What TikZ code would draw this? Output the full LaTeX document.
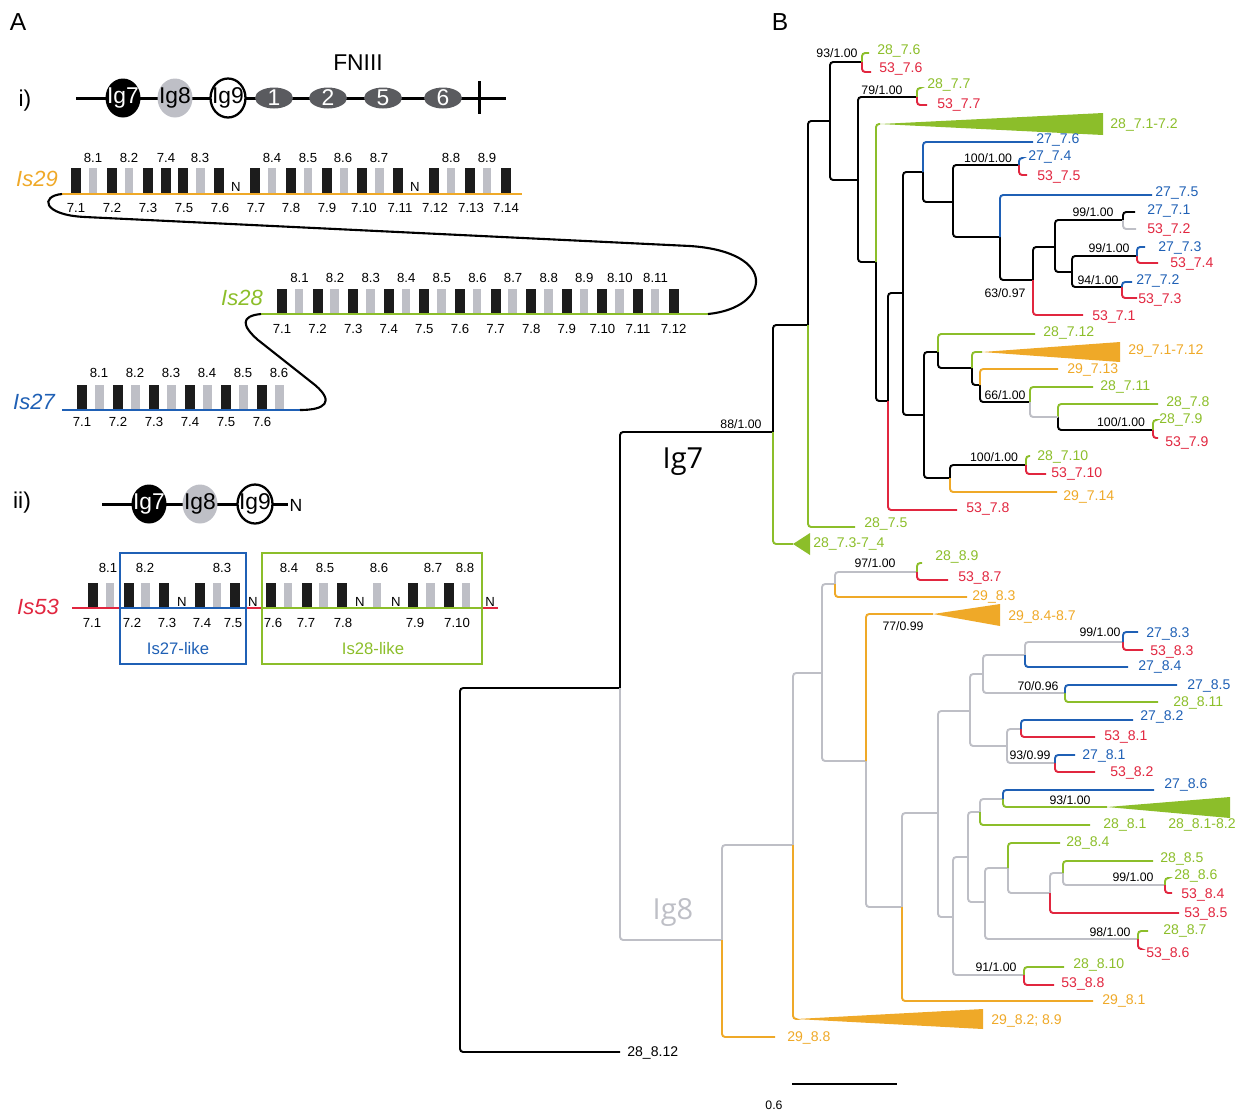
\documentclass[tikz,border=0pt]{standalone}
\usepackage{fontspec}
\setmainfont{Liberation Sans}
\newfontfamily\treefont{Open Sans}
\usepackage{tikz}
\usetikzlibrary{shapes.geometric}
\definecolor{isorange}{HTML}{EFA928}
\definecolor{isgreen}{HTML}{8CBE2A}
\definecolor{isblue}{HTML}{1F60B5}
\definecolor{isred}{HTML}{E1263F}
\definecolor{iggray}{HTML}{BEBFC6}
\definecolor{fngray}{HTML}{5A5B5F}
\definecolor{boxblack}{HTML}{1C1C1C}

\begin{document}
\begin{tikzpicture}[x=0.02cm, y=-0.02cm,
    panel/.style={inner sep=0pt, font=\fontsize{14}{16}\selectfont},
    isname/.style={inner sep=0pt, font=\fontsize{12.5}{14}\selectfont\itshape},
    num/.style={inner sep=0pt, font=\fontsize{7.5}{8}\selectfont},
    igdom/.style={ellipse, inner sep=0pt, minimum width=0.7cm, minimum height=0.78cm},
    iglab/.style={font=\fontsize{13}{14}\selectfont, inner sep=0pt},
    fndom/.style={ellipse, fill=fngray, inner sep=0pt, minimum width=0.76cm, minimum height=0.42cm},
    backbone/.style={line width=1.7pt},
    isline/.style={line width=1.1pt},
    link/.style={line width=1.2pt},
    br/.style={line width=1.1pt, rounded corners=1.8pt},
    leaf/.style={anchor=west, inner sep=0pt, font=\fontsize{8}{9}\selectfont},
    boot/.style={inner sep=0pt, font=\fontsize{7}{8}\selectfont},
    clade/.style={inner sep=0pt, font=\treefont\fontsize{16.5}{18}\selectfont},
  ]
  \useasboundingbox (0,0) rectangle (1239,1110);

  % Panel A: domain layout i)
  \node[panel] (pA) at (18,22) {A};
  \node[panel] (pB) at (780,22) {B};
  \node[panel, font=\fontsize{13}{14}\selectfont] (ione) at (25,101) {i)};
  \node[inner sep=0pt, font=\fontsize{13}{14}\selectfont] (fn) at (358,63) {FNIII};
  \coordinate (dL) at (76,98);
  \coordinate (dR) at (506,98);
  \draw[backbone] (dL) -- (dR);
  \draw[backbone] (479,81) -- (479,114);
  \node[igdom, fill=black, label={[iglab, text=white]center:Ig7}] (ig7a) at (123,98) {};
  \node[igdom, fill=iggray, label={[iglab]center:Ig8}] (ig8a) at (175,98) {};
  \node[igdom, fill=white, draw=black, line width=1.3pt, label={[iglab]center:Ig9}] (ig9a) at (228,98) {};
  \node[fndom, label={[iglab, text=white]center:1}] (fn1) at (274,98) {};
  \node[fndom, label={[iglab, text=white]center:2}] (fn2) at (328,98) {};
  \node[fndom, label={[iglab, text=white]center:5}] (fn5) at (383,98) {};
  \node[fndom, label={[iglab, text=white]center:6}] (fn6) at (443,98) {};

  % Is29 row
  \node[isname, text=isorange] (is29) at (37,179) {Is29};
  \foreach \s in {0,2,4,5,6,8,10,12,14,16,18,20,22,24}
    \fill[boxblack] ({71+17.9*\s},168) rectangle ++(10,26);
  \foreach \s in {1,3,7,11,13,15,17,21,23}
    \fill[iggray] ({71+17.9*\s},168) rectangle ++(8.5,26);
  \coordinate (is29L) at (62,194);
  \coordinate (is29R) at (522,194);
  \draw[isline, isorange] (is29L) -- (is29R);
  \foreach \x/\t in {93/8.1,129/8.2,166/7.4,200/8.3,272/8.4,308/8.5,343/8.6,379/8.7,451/8.8,487/8.9}
    \node[num] (u29-\x) at (\x,158) {\t};
  \foreach \x/\t in {76/7.1,112/7.2,148/7.3,184/7.5,220/7.6,256/7.7,291/7.8,327/7.9,364/7.10,400/7.11,435/7.12,471/7.13,506/7.14}
    \node[num] (d29-\x) at (\x,208) {\t};
  \node[num] (n29a) at (236,187) {N};
  \node[num] (n29b) at (415,187) {N};

  % Is28 row
  \node[isname, text=isgreen] (is28) at (242,298) {Is28};
  \foreach \s in {0,2,...,22}
    \fill[boxblack] ({277+17.8*\s},289) rectangle ++(10,25);
  \foreach \s in {1,3,...,21}
    \fill[iggray] ({277+17.8*\s},289) rectangle ++(8.5,25);
  \coordinate (is28L) at (261,314);
  \coordinate (is28R) at (708,314);
  \draw[isline, isgreen] (is28L) -- (is28R);
  \foreach \t [count=\k from 0] in {8.1,8.2,8.3,8.4,8.5,8.6,8.7,8.8,8.9,8.10,8.11}
    \node[num] (u28-\k) at ({299.5+35.6*\k},278) {\t};
  \foreach \t [count=\k from 0] in {7.1,7.2,7.3,7.4,7.5,7.6,7.7,7.8,7.9,7.10,7.11,7.12}
    \node[num] (d28-\k) at ({282+35.6*\k},329) {\t};

  % Is27 row
  \node[isname, text=isblue] (is27) at (34,402) {Is27};
  \foreach \s in {0,2,...,10}
    \fill[boxblack] ({77+18*\s},385) rectangle ++(10,25);
  \foreach \s in {1,3,...,11}
    \fill[iggray] ({77+18*\s},385) rectangle ++(8.5,25);
  \coordinate (is27L) at (62,410);
  \coordinate (is27R) at (300,410);
  \draw[isline, isblue] (is27L) -- (is27R);
  \foreach \t [count=\k from 0] in {8.1,8.2,8.3,8.4,8.5,8.6}
    \node[num] (u27-\k) at ({99+36*\k},373) {\t};
  \foreach \t [count=\k from 0] in {7.1,7.2,7.3,7.4,7.5,7.6}
    \node[num] (d27-\k) at ({82+36*\k},422) {\t};

  % links between the rows
  \draw[link] (is29L) .. controls (40,196) and (42,215) .. (85,217)
    -- (690,246) .. controls (780,252) and (770,308) .. (is28R);
  \draw[link] (is28L) .. controls (240,316) and (242,326) .. (258,340)
    -- (315,385) .. controls (335,402) and (325,410) .. (is27R);

  % Panel A: domain layout ii)
  \node[panel, font=\fontsize{13}{14}\selectfont] (itwo) at (22,503) {ii)};
  \coordinate (eL) at (102,504);
  \coordinate (eR) at (288,504);
  \draw[backbone] (eL) -- (eR);
  \node[igdom, fill=black, label={[iglab, text=white]center:Ig7}] (ig7b) at (149,504) {};
  \node[igdom, fill=iggray, label={[iglab]center:Ig8}] (ig8b) at (200,504) {};
  \node[igdom, fill=white, draw=black, line width=1.3pt, label={[iglab]center:Ig9}] (ig9b) at (255,504) {};
  \node[inner sep=0pt, font=\fontsize{10}{11}\selectfont] (nend) at (296,505) {N};

  % Is53 row
  \node[isname, text=isred] (is53) at (38,607) {Is53};
  \foreach \s in {0,2,4,6,8,10,12,14,18,20}
    \fill[boxblack] ({88+17.8*\s},583) rectangle ++(10,25);
  \foreach \s in {1,3,7,11,13,16,19,21}
    \fill[iggray] ({88+17.8*\s},583) rectangle ++(8.5,25);
  \draw[isline, isred] (72,608) -- (120,608) (246,608) -- (262,608) (482,608) -- (498,608);
  \draw[isline, isblue] (120,608) -- (246,608);
  \draw[isline, isgreen] (262,608) -- (482,608);
  \draw[line width=0.9pt, isblue] (120,553) rectangle (246,664);
  \draw[line width=0.9pt, isgreen] (262,553) rectangle (482,664);
  \foreach \x/\t in {108/8.1,145/8.2,222/8.3,289/8.4,325/8.5,379/8.6,433/8.7,465/8.8}
    \node[num] (u53-\x) at (\x,568) {\t};
  \foreach \x/\t in {92/7.1,132/7.2,167/7.3,202/7.4,233/7.5,273/7.6,306/7.7,343/7.8,415/7.9,457/7.10}
    \node[num] (d53-\x) at (\x,623) {\t};
  \foreach \x in {182,253,360,396,490}
    \node[num] (n53-\x) at (\x,602) {N};
  \node[inner sep=0pt, font=\fontsize{9.5}{11}\selectfont, text=isblue] (like27) at (178,649) {Is27-like};
  \node[inner sep=0pt, font=\fontsize{9.5}{11}\selectfont, text=isgreen] (like28) at (373,649) {Is28-like};

  % Panel B: tree nodes
  \path (460,870) coordinate (nR) (620,688) coordinate (nA) (773,432) coordinate (nIg7)
    (808,325) coordinate (n808) (830,121) coordinate (n830) (862,62) coordinate (n862)
    (858,180) coordinate (n858) (917,97) coordinate (n917) (876,262) coordinate (n876)
    (888,401) coordinate (n888) (903,293) coordinate (n903) (923,172) coordinate (n923)
    (953,202) coordinate (n953) (1019,165) coordinate (n1019) (1000,237) coordinate (n1000)
    (1033,280) coordinate (n1033) (1055,247) coordinate (n1055) (1123,220) coordinate (n1123)
    (1072,272) coordinate (n1072) (1137,256) coordinate (n1137) (1122,287) coordinate (n1122)
    (924,415) coordinate (n924) (938,352) coordinate (n938) (972,368) coordinate (n972)
    (980,385) coordinate (n980) (1030,402) coordinate (n1030) (1058,417) coordinate (n1058)
    (1153,430) coordinate (n1153) (950,478) coordinate (n950) (1026,465) coordinate (n1026);
  \path (722,940) coordinate (nIg8) (793,845) coordinate (m793) (822,673) coordinate (m822)
    (835,584) coordinate (m835) (917,572) coordinate (m917) (866,761) coordinate (m866)
    (902,907) coordinate (m902) (938,813) coordinate (m938) (970,711) coordinate (m970)
    (983,674) coordinate (m983) (1025,655) coordinate (m1025) (1123,642) coordinate (m1123)
    (1065,693) coordinate (m1065) (1007,746) coordinate (m1007) (1021,729) coordinate (m1021)
    (1055,763) coordinate (m1055) (953,917) coordinate (m953) (968,857) coordinate (m968)
    (980,812) coordinate (m980) (1003,799) coordinate (m1003) (985,902) coordinate (m985)
    (1008,868) coordinate (m1008) (1050,893) coordinate (m1050) (1063,873) coordinate (m1063)
    (1165,885) coordinate (m1165) (1138,939) coordinate (m1138) (1024,975) coordinate (m1024);

  % Panel B: tips
  \path (869,53) coordinate (g76) (871,72) coordinate (r76) (920,88) coordinate (g77)
    (927,105) coordinate (r77) (880,124) coordinate (tA) (1033,142) coordinate (b76)
    (1022,158) coordinate (b74) (1027,175) coordinate (r75) (1152,195) coordinate (b75)
    (1135,212) coordinate (b71) (1136,229) coordinate (r72) (1145,247) coordinate (b73)
    (1158,263) coordinate (r74) (1132,282) coordinate (b72) (1137,298) coordinate (r73)
    (1083,315) coordinate (r71) (1035,334) coordinate (g712) (982,352) coordinate (tB)
    (1058,369) coordinate (o713) (1093,387) coordinate (g711) (1158,404) coordinate (g78)
    (1155,420) coordinate (g79) (1158,438) coordinate (r79) (1030,456) coordinate (g710)
    (1046,474) coordinate (r710) (1057,492) coordinate (o714) (957,510) coordinate (r78)
    (855,527) coordinate (g75) (793,544) coordinate (tC);
  \path (922,563) coordinate (g89) (948,580) coordinate (r87) (967,597) coordinate (o83)
    (933,614) coordinate (tD) (1138,632) coordinate (b83) (1143,650) coordinate (r83)
    (1128,667) coordinate (b84) (1177,685) coordinate (b85) (1158,702) coordinate (g811)
    (1133,720) coordinate (b82) (1095,737) coordinate (r81) (1075,755) coordinate (b81)
    (1095,772) coordinate (r82) (1154,790) coordinate (b86) (1107,807) coordinate (tE)
    (1090,825) coordinate (g81) (1060,843) coordinate (g84) (1153,861) coordinate (g85)
    (1167,878) coordinate (g86) (1172,893) coordinate (r84) (1179,913) coordinate (r85)
    (1148,931) coordinate (g87) (1140,949) coordinate (r86) (1064,967) coordinate (g810)
    (1054,985) coordinate (r88) (1093,1001) coordinate (o81) (796,1019) coordinate (tF)
    (775,1037) coordinate (o88) (620,1052) coordinate (k812);

  % collapsed clades
  \fill[isgreen] (tA) -- (1103,113) -- (1103,135) -- cycle;
  \fill[isorange] (tB) -- (1120,342) -- (1120,362) -- cycle;
  \fill[isgreen] (tC) -- (810,533) -- (810,555) -- cycle;
  \fill[isorange] (tD) -- (1000,604) -- (1000,626) -- cycle;
  \fill[isgreen] (tE) -- (1230,797) -- (1230,818) -- cycle;
  \fill[isorange] (tF) -- (983,1009) -- (983,1029) -- cycle;

  % branches
  \draw[br] (nR) |- (nA) (nR) |- (k812) (nA) |- (nIg7) (nIg7) |- (n808) (n808) |- (n830)
    (n830) |- (n862) (n830) |- (n858) (n858) |- (n917) (n858) |- (n876) (n876) |- (n888)
    (n888) |- (n903) (n903) |- (n923) (n903) |- (n924) (n923) |- (n953) (n953) |- (n1019)
    (n953) |- (n1000) (n1000) |- (n1033) (n1033) |- (n1055) (n1055) |- (n1123) (n1055) |- (n1072)
    (n1072) |- (n1137) (n1072) |- (n1122) (n1123) |- (b71) (n924) |- (n938) (n924) |- (n950)
    (n938) |- (n972) (n972) |- (n980) (n980) |- (n1030) (n1058) |- (n1153) (n950) |- (n1026);
  \draw[br, isgreen] (nIg7) |- (tC) (n808) |- (g75) (n862) |- (g76) (n917) |- (g77) (n876) |- (tA)
    (n938) |- (g712) (n972) |- (tB) (n1030) |- (g711) (n1058) |- (g78) (n1153) |- (g79)
    (n1026) |- (g710);
  \draw[br, isred] (n862) |- (r76) (n917) |- (r77) (n888) |- (r78) (n1019) |- (r75) (n1033) |- (r71)
    (n1137) |- (r74) (n1122) |- (r73) (n1153) |- (r79) (n1026) |- (r710);
  \draw[br, isblue] (n923) |- (b76) (n1019) |- (b74) (n1000) |- (b75) (n1137) |- (b73) (n1122) |- (b72);
  \draw[br, isorange] (n980) |- (o713) (n950) |- (o714);
  \draw[br, iggray] (nA) |- (nIg8) (n1123) |- (r72) (n1030) |- (n1058)
    (nIg8) |- (m793) (m793) |- (m822) (m822) |- (m835) (m822) |- (m866) (m835) |- (m917)
    (m866) |- (m902) (m902) |- (m938) (m938) |- (m970) (m938) |- (m953) (m970) |- (m983)
    (m970) |- (m1007) (m983) |- (m1025) (m983) |- (m1065) (m1025) |- (m1123) (m1007) |- (m1021)
    (m1007) |- (m1055) (m953) |- (m968) (m953) |- (m1024) (m968) |- (m980) (m968) |- (m985)
    (m980) |- (m1003) (m985) |- (m1008) (m985) |- (m1138) (m1008) |- (m1050) (m1050) |- (m1063)
    (m1063) |- (m1165);
  \draw[br, isorange] (nIg8) |- (o88) (m793) |- (tF) (m835) |- (o83) (m866) |- (tD) (m902) |- (o81);
  \draw[br, isgreen] (m917) |- (g89) (m1065) |- (g811) (m1003) |- (tE) (m980) |- (g81) (m1008) |- (g84)
    (m1063) |- (g85) (m1165) |- (g86) (m1138) |- (g87) (m1024) |- (g810);
  \draw[br, isred] (m917) |- (r87) (m1123) |- (r83) (m1021) |- (r81) (m1055) |- (r82) (m1050) |- (r85)
    (m1165) |- (r84) (m1138) |- (r86) (m1024) |- (r88);
  \draw[br, isblue] (m1123) |- (b83) (m1025) |- (b84) (m1065) |- (b85) (m1021) |- (b82)
    (m1055) |- (b81) (m1003) |- (b86);

  % clade names
  \node[clade] (ig7lab) at (683,462) {Ig7};
  \node[clade, text=iggray] (ig8lab) at (673,912) {Ig8};

  % support values
  \node[boot] (s1) at (837,53) {93/1.00};
  \node[boot] (s2) at (882,90) {79/1.00};
  \node[boot] (s3) at (988,158) {100/1.00};
  \node[boot] (s4) at (1093,212) {99/1.00};
  \node[boot] (s5) at (1109,248) {99/1.00};
  \node[boot] (s6) at (1098,280) {94/1.00};
  \node[boot] (s7) at (1005,293) {63/0.97};
  \node[boot] (s8) at (1005,395) {66/1.00};
  \node[boot] (s9) at (1121,422) {100/1.00};
  \node[boot] (s10) at (994,457) {100/1.00};
  \node[boot] (s11) at (741,424) {88/1.00};
  \node[boot] (s12) at (875,563) {97/1.00};
  \node[boot] (s13) at (903,626) {77/0.99};
  \node[boot] (s14) at (1100,632) {99/1.00};
  \node[boot] (s15) at (1038,686) {70/0.96};
  \node[boot] (s16) at (1030,755) {93/0.99};
  \node[boot] (s17) at (1070,800) {93/1.00};
  \node[boot] (s18) at (1133,877) {99/1.00};
  \node[boot] (s19) at (1110,932) {98/1.00};
  \node[boot] (s20) at (996,967) {91/1.00};

  % leaf names, Ig7 part
  \node[leaf, text=isgreen] (l1) at (877,51) {28\_7.6};
  \node[leaf, text=isred] (l2) at (879,69) {53\_7.6};
  \node[leaf, text=isgreen] (l3) at (927,85) {28\_7.7};
  \node[leaf, text=isred] (l4) at (937,105) {53\_7.7};
  \node[leaf, text=isgreen] (l5) at (1110,125) {28\_7.1-7.2};
  \node[leaf, text=isblue] (l6) at (1036,140) {27\_7.6};
  \node[leaf, text=isblue] (l7) at (1028,157) {27\_7.4};
  \node[leaf, text=isred] (l8) at (1037,177) {53\_7.5};
  \node[leaf, text=isblue] (l9) at (1155,193) {27\_7.5};
  \node[leaf, text=isblue] (l10) at (1147,211) {27\_7.1};
  \node[leaf, text=isred] (l11) at (1147,230) {53\_7.2};
  \node[leaf, text=isblue] (l12) at (1158,248) {27\_7.3};
  \node[leaf, text=isred] (l13) at (1170,264) {53\_7.4};
  \node[leaf, text=isblue] (l14) at (1136,281) {27\_7.2};
  \node[leaf, text=isred] (l15) at (1138,300) {53\_7.3};
  \node[leaf, text=isred] (l16) at (1092,317) {53\_7.1};
  \node[leaf, text=isgreen] (l17) at (1043,333) {28\_7.12};
  \node[leaf, text=isorange] (l18) at (1128,351) {29\_7.1-7.12};
  \node[leaf, text=isorange] (l19) at (1067,370) {29\_7.13};
  \node[leaf, text=isgreen] (l20) at (1100,387) {28\_7.11};
  \node[leaf, text=isgreen] (l21) at (1166,403) {28\_7.8};
  \node[leaf, text=isgreen] (l22) at (1159,420) {28\_7.9};
  \node[leaf, text=isred] (l23) at (1165,443) {53\_7.9};
  \node[leaf, text=isgreen] (l24) at (1037,457) {28\_7.10};
  \node[leaf, text=isred] (l25) at (1051,474) {53\_7.10};
  \node[leaf, text=isorange] (l26) at (1063,497) {29\_7.14};
  \node[leaf, text=isred] (l27) at (966,509) {53\_7.8};
  \node[leaf, text=isgreen] (l28) at (864,524) {28\_7.5};
  \node[leaf, text=isgreen] (l29) at (813,544) {28\_7.3-7\_4};

  % leaf names, Ig8 part
  \node[leaf, text=isgreen] (m1) at (935,557) {28\_8.9};
  \node[leaf, text=isred] (m2) at (958,578) {53\_8.7};
  \node[leaf, text=isorange] (m3) at (972,597) {29\_8.3};
  \node[leaf, text=isorange] (m4) at (1008,617) {29\_8.4-8.7};
  \node[leaf, text=isblue] (m5) at (1146,634) {27\_8.3};
  \node[leaf, text=isred] (m6) at (1150,652) {53\_8.3};
  \node[leaf, text=isblue] (m7) at (1138,667) {27\_8.4};
  \node[leaf, text=isblue] (m8) at (1187,686) {27\_8.5};
  \node[leaf, text=isgreen] (m9) at (1173,703) {28\_8.11};
  \node[leaf, text=isblue] (m10) at (1140,717) {27\_8.2};
  \node[leaf, text=isred] (m11) at (1104,737) {53\_8.1};
  \node[leaf, text=isblue] (m12) at (1082,756) {27\_8.1};
  \node[leaf, text=isred] (m13) at (1110,773) {53\_8.2};
  \node[leaf, text=isblue] (m14) at (1164,785) {27\_8.6};
  \node[leaf, text=isgreen] (m15) at (1103,825) {28\_8.1};
  \node[leaf, text=isgreen] (m16) at (1168,825) {28\_8.1-8.2};
  \node[leaf, text=isgreen] (m17) at (1066,843) {28\_8.4};
  \node[leaf, text=isgreen] (m18) at (1160,859) {28\_8.5};
  \node[leaf, text=isgreen] (m19) at (1174,876) {28\_8.6};
  \node[leaf, text=isred] (m20) at (1181,895) {53\_8.4};
  \node[leaf, text=isred] (m21) at (1184,914) {53\_8.5};
  \node[leaf, text=isgreen] (m22) at (1163,931) {28\_8.7};
  \node[leaf, text=isred] (m23) at (1146,954) {53\_8.6};
  \node[leaf, text=isgreen] (m24) at (1073,965) {28\_8.10};
  \node[leaf, text=isred] (m25) at (1061,984) {53\_8.8};
  \node[leaf, text=isorange] (m26) at (1102,1001) {29\_8.1};
  \node[leaf, text=isorange] (m27) at (991,1021) {29\_8.2; 8.9};
  \node[leaf, text=isorange] (m28) at (787,1038) {29\_8.8};
  \node[leaf] (m29) at (627,1053) {28\_8.12};

  % scale bar
  \coordinate (sbL) at (792,1084);
  \coordinate (sbR) at (897,1084);
  \draw[line width=1.1pt] (sbL) -- (sbR);
  \node[inner sep=0pt, font=\fontsize{7}{8}\selectfont] (sbt) at (774,1105) {0.6};
\end{tikzpicture}
\end{document}
